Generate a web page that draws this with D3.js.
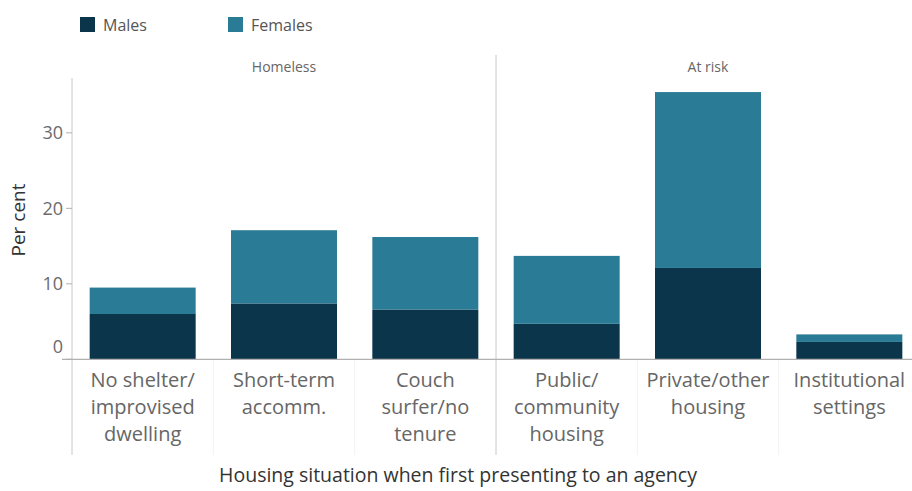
<!DOCTYPE html>
<html><head><meta charset="utf-8">
<script src="https://cdn.jsdelivr.net/npm/d3@7"></script>
<style>body{margin:0;background:#fff;font-family:"Open Sans",sans-serif;}</style>
</head><body><svg id="c" width="912" height="491"></svg>
<script>
const categories = [
  ["No shelter/","improvised","dwelling"],
  ["Short-term","accomm."],
  ["Couch","surfer/no","tenure"],
  ["Public/","community","housing"],
  ["Private/other","housing"],
  ["Institutional","settings"]
];
const categoryKeys = ["No shelter/improvised dwelling","Short-term accomm.","Couch surfer/no tenure","Public/community housing","Private/other housing","Institutional settings"];
const groups = ["Homeless","At risk"];
const groupOf = ["Homeless","Homeless","Homeless","At risk","At risk","At risk"];
const males = [6.0, 7.4, 6.6, 4.7, 12.1, 2.3];
const females = [3.5, 9.7, 9.6, 9.0, 23.3, 1.0];
const seriesNames = ["Males","Females"];
const yTicks = [0,10,20,30];
const colors = {Males:"#0b354b", Females:"#2a7b96"};

const svg = d3.select("#c");
const x = d3.scaleBand().domain(categoryKeys).range([72, 920]).paddingInner(0.25).paddingOuter(0.125);
const y = d3.scaleLinear().domain([0, 37]).range([359.3, 80]);

const rows = categoryKeys.map((k,i)=>({key:k, Males:males[i], Females:females[i]}));
const stack = d3.stack().keys(seriesNames)(rows);

svg.append("g").selectAll("g").data(stack).join("g")
  .attr("fill", d=>colors[d.key])
  .selectAll("rect").data(d=>d).join("rect")
  .attr("x", d=>x(d.data.key))
  .attr("width", x.bandwidth())
  .attr("y", d=>y(d[1]))
  .attr("height", d=>y(d[0])-y(d[1]));

svg.append("line").attr("x1",72).attr("x2",72).attr("y1",78).attr("y2",455).attr("stroke","#c8c8c8");
const divX = x(categoryKeys[3]) - x.step()*x.paddingInner()/2;
svg.append("line").attr("x1",divX).attr("x2",divX).attr("y1",55).attr("y2",455).attr("stroke","#c8c8c8");
[1,2,4,5].forEach(i=>{
  const sx = x(categoryKeys[i]) - x.step()*x.paddingInner()/2;
  svg.append("line").attr("x1",sx).attr("x2",sx).attr("y1",360).attr("y2",455).attr("stroke","#f2f2f2");
});
svg.append("line").attr("x1",62).attr("x2",912).attr("y1",y(0)).attr("y2",y(0)).attr("stroke","#b0b0b0").attr("stroke-width",1.2);

const yg = svg.append("g");
yTicks.forEach(t=>{
  yg.append("line").attr("x1",66).attr("x2",72).attr("y1",y(t)).attr("y2",y(t)).attr("stroke","#b0b0b0");
  yg.append("text").attr("x",63).attr("y", t===0 ? y(t)-13 : y(t)).attr("dy","0.35em")
    .attr("text-anchor","end").attr("font-size",18).attr("fill","#6b6b6b").text(t);
});
svg.append("text").attr("transform","translate(25,220) rotate(-90)").attr("text-anchor","middle")
  .attr("font-size",19).attr("fill","#333").text("Per cent");

groups.forEach(g=>{
  const idx = groupOf.map((v,i)=>v===g?i:-1).filter(i=>i>=0);
  const x0 = x(categoryKeys[idx[0]]), x1 = x(categoryKeys[idx[idx.length-1]]) + x.bandwidth();
  svg.append("text").attr("x",(x0+x1)/2).attr("y",72).attr("text-anchor","middle")
    .attr("font-size",14).attr("fill","#666").text(g);
});

categories.forEach((lines,i)=>{
  const t = svg.append("text").attr("text-anchor","middle").attr("font-size",20).attr("fill","#666");
  lines.forEach((l,j)=>{
    t.append("tspan").attr("x", x(categoryKeys[i]) + x.bandwidth()/2).attr("y", 387 + j*27).text(l);
  });
});

svg.append("text").attr("x",458).attr("y",482).attr("text-anchor","middle").attr("font-size",19.5)
  .attr("fill","#333").text("Housing situation when first presenting to an agency");

const lg = svg.append("g");
seriesNames.forEach((s,i)=>{
  const lx = 80 + i*148;
  lg.append("rect").attr("x",lx).attr("y",17).attr("width",15).attr("height",15).attr("fill",colors[s]);
  lg.append("text").attr("x",lx+23).attr("y",25).attr("dy","0.35em").attr("font-size",16).attr("fill","#555").text(s);
});
</script></body></html>
